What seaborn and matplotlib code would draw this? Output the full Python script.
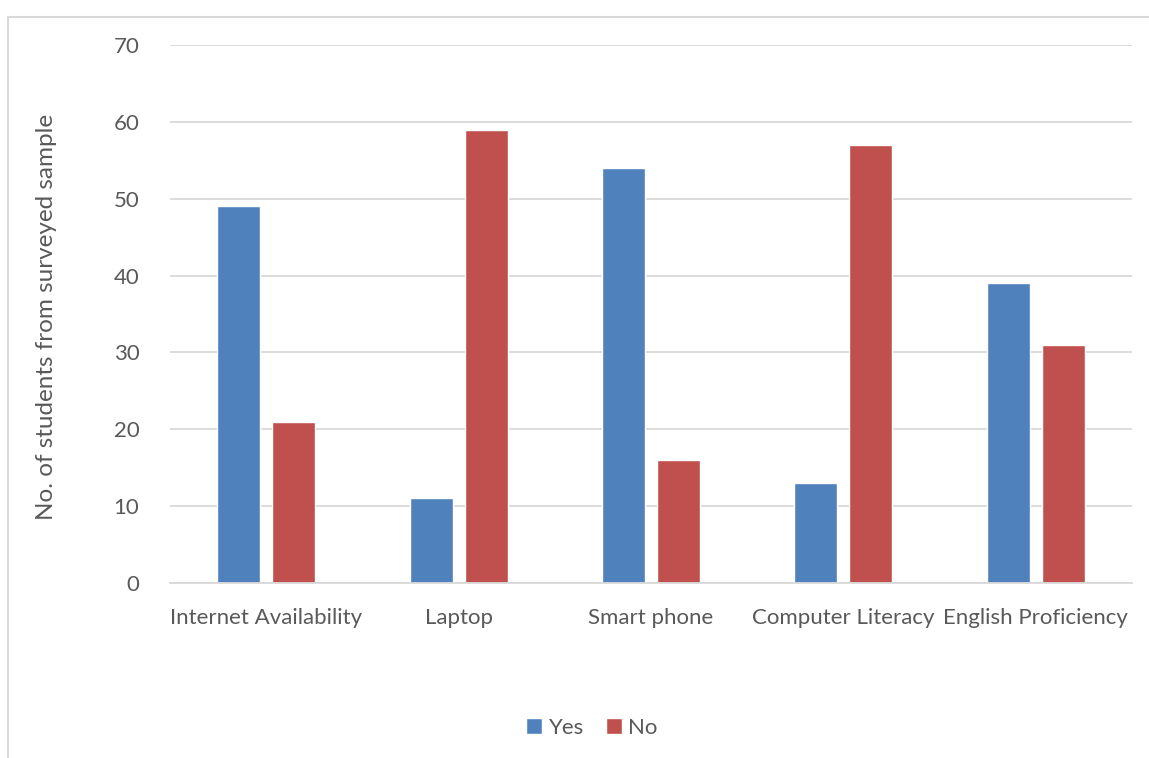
import matplotlib
matplotlib.use("Agg")
import matplotlib.pyplot as plt
import seaborn as sns
import pandas as pd
from matplotlib.patches import Rectangle

categories = ["Internet Availability", "Laptop", "Smart phone", "Computer Literacy", "English Proficiency"]
yes_values = [49, 11, 54, 13, 39]
no_values = [21, 59, 16, 57, 31]
series_names = ["Yes", "No"]
y_ticks = [0, 10, 20, 30, 40, 50, 60, 70]

df = pd.DataFrame({
    "category": categories * 2,
    "value": yes_values + no_values,
    "series": [series_names[0]] * len(categories) + [series_names[1]] * len(categories),
})

sns.set_theme(style="white")
plt.rcParams['font.family'] = ['Lato', 'DejaVu Sans']

text_color = "#595959"
grid_color = "#D9D9D9"

fig = plt.figure(figsize=(11.49, 7.58), dpi=100)
ax = fig.add_axes([170/1149, 1-583/758, (1132-170)/1149, (583-45)/758])

sns.barplot(data=df, x="category", y="value", hue="series",
            palette={"Yes": "#4F81BD", "No": "#C0504D"},
            width=0.572, gap=0.218, ax=ax, saturation=1, legend=True)

ax.set_ylim(0, 70)
ax.set_yticks(y_ticks)
ax.set_xlim(-0.5, len(categories) - 0.5)
ax.yaxis.grid(True, color=grid_color, linewidth=1.3)
ax.set_axisbelow(True)
for s in ["top", "right", "left"]:
    ax.spines[s].set_visible(False)
ax.spines["bottom"].set_color(grid_color)
ax.spines["bottom"].set_linewidth(1.3)
ax.tick_params(axis="both", length=0, labelsize=16, colors=text_color)
ax.tick_params(axis="y", pad=22)
ax.tick_params(axis="x", pad=18)
ax.set_xlabel("")
ax.set_ylabel("No. of students from surveyed sample", fontsize=17.5, color=text_color)
ax.yaxis.set_label_coords(-113/962, 0.495)

handles, labels = ax.get_legend_handles_labels()
ax.get_legend().remove()
fig.legend(handles, labels, loc="center", bbox_to_anchor=(592/1149, 1-728/758), ncol=2,
           frameon=False, fontsize=16, labelcolor=text_color, handlelength=0.7, handleheight=0.7,
           handletextpad=0.3, columnspacing=1.0)

fig.patches.append(Rectangle((8/1149, -0.1), 2, 1.1 - 17/758, transform=fig.transFigure,
                             fill=False, edgecolor=grid_color, linewidth=1.5, clip_on=False))

fig.savefig("out.png", dpi=100)
